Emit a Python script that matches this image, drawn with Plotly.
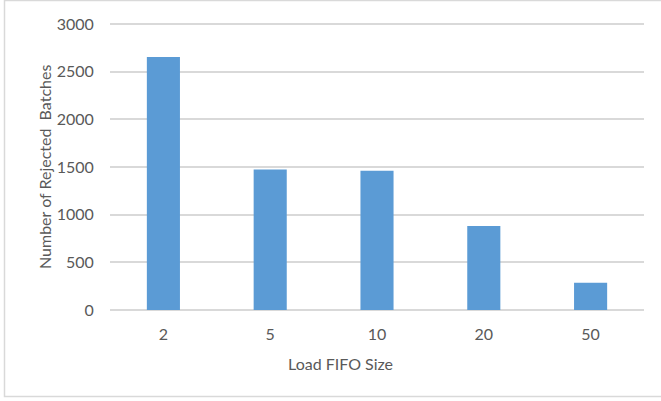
import plotly.graph_objects as go

fifo_sizes = ["2", "5", "10", "20", "50"]
rejected_batches = [2655, 1475, 1460, 880, 285]
y_ticks = [0, 500, 1000, 1500, 2000, 2500, 3000]

FONT = "Lato"
FONT_SIZE = 16
TEXT_COLOR = "#595959"
GRID_COLOR = "#d9d9d9"

W, H = 661, 401
L, R, T, B = 110, 17, 22, 91
pw, ph = W - L - R, H - T - B
Y_MAX = 3000 * ph / (ph - 2)


def px_x(x):
    return (x - L) / pw


def px_y(y):
    return (H - B - y) / ph


fig = go.Figure(
    go.Bar(
        x=fifo_sizes,
        y=rejected_batches,
        marker=dict(color="#5b9bd5", line=dict(width=0)),
    )
)

fig.update_layout(
    width=W,
    height=H,
    margin=dict(l=L, r=R, t=T, b=B),
    paper_bgcolor="white",
    plot_bgcolor="white",
    bargap=0.69,
    showlegend=False,
    font=dict(family=FONT, size=FONT_SIZE, color=TEXT_COLOR),
    xaxis=dict(
        type="category",
        showgrid=False,
        showline=False,
        ticks="outside",
        ticklen=10,
        tickcolor="rgba(0,0,0,0)",
        tickfont=dict(family=FONT, size=FONT_SIZE, color=TEXT_COLOR),
    ),
    yaxis=dict(
        range=[0, Y_MAX],
        tickvals=y_ticks,
        showgrid=True,
        gridcolor=GRID_COLOR,
        gridwidth=1.5,
        zeroline=True,
        zerolinecolor=GRID_COLOR,
        zerolinewidth=1.5,
        showline=False,
        ticks="outside",
        ticklen=12,
        tickcolor="rgba(0,0,0,0)",
        tickfont=dict(family=FONT, size=FONT_SIZE, color=TEXT_COLOR),
    ),
    annotations=[
        dict(
            text="Load FIFO Size",
            xref="paper", yref="paper",
            x=px_x(340), y=px_y(363),
            xanchor="center", yanchor="middle",
            showarrow=False,
            font=dict(family=FONT, size=FONT_SIZE, color=TEXT_COLOR),
        ),
        dict(
            text="Number of Rejected  Batches",
            xref="paper", yref="paper",
            x=px_x(44), y=px_y(167),
            xanchor="center", yanchor="middle",
            textangle=-90,
            showarrow=False,
            font=dict(family=FONT, size=FONT_SIZE, color=TEXT_COLOR),
        ),
    ],
    shapes=[
        dict(
            type="rect",
            xref="paper", yref="paper",
            x0=px_x(4.5), x1=px_x(670),
            y0=px_y(396.5), y1=px_y(0.5),
            line=dict(color=GRID_COLOR, width=1.5),
            fillcolor="rgba(0,0,0,0)",
            layer="below",
        )
    ],
)

fig.write_html("out.html")
